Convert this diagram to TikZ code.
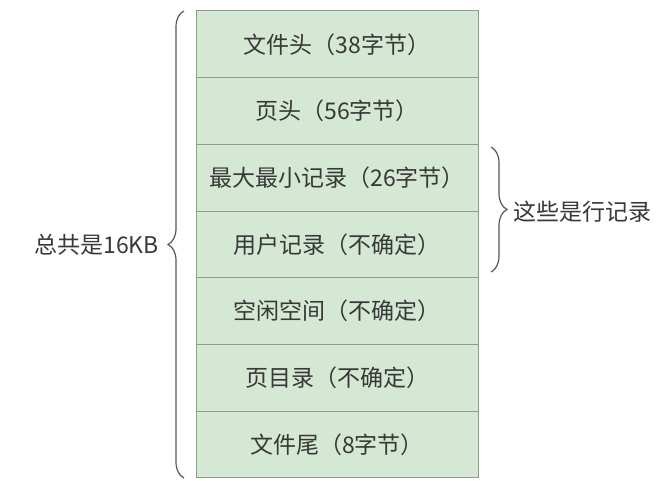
\documentclass[tikz,border=0pt]{standalone}
\usepackage{fontspec}
\setmainfont{Noto Sans CJK SC}
\usetikzlibrary{decorations.pathreplacing}
\definecolor{cellfill}{HTML}{D5E8D4}
\definecolor{cellline}{HTML}{8E9C8B}
\definecolor{ink}{HTML}{383838}
\definecolor{bracecol}{HTML}{555555}
\begin{document}
\begin{tikzpicture}[x=1pt,y=-1pt,
  cell/.style={draw=cellline, fill=cellfill, line width=1pt,
    minimum width=282pt, minimum height=66.71pt, inner sep=0pt, outer sep=0pt,
    anchor=north west, text=ink, font=\fontsize{23}{26}\selectfont},
  curly/.style={draw=bracecol, line width=1.2pt, decorate,
    decoration={brace, amplitude=16pt}},
  note/.style={text=ink, inner sep=0pt, font=\fontsize{23}{26}\selectfont}]
  \useasboundingbox (0,0) rectangle (663,481);
  % page layout, top to bottom
  \node[cell] (b1) at (196,11) {文件头（38字节）};
  \node[cell] (b2) at (b1.south west) {页头（56字节）};
  \node[cell] (b3) at (b2.south west) {最大最小记录（26字节）};
  \node[cell] (b4) at (b3.south west) {用户记录（不确定）};
  \node[cell] (b5) at (b4.south west) {空闲空间（不确定）};
  \node[cell] (b6) at (b5.south west) {页目录（不确定）};
  \node[cell] (b7) at (b6.south west) {文件尾（8字节）};
  % brace around the whole page
  \coordinate (lbot) at (184,478);
  \coordinate (ltop) at (184,11);
  \draw[curly] (lbot) -- (ltop);
  \node[note, anchor=east] (total) at (159,244.5) {总共是16KB};
  % brace around the row records
  \coordinate (rtop) at (491,147);
  \coordinate (rbot) at (491,272);
  \draw[curly] (rtop) -- (rbot);
  \node[note, anchor=west] (rows) at (513,212) {这些是行记录};
\end{tikzpicture}
\end{document}
